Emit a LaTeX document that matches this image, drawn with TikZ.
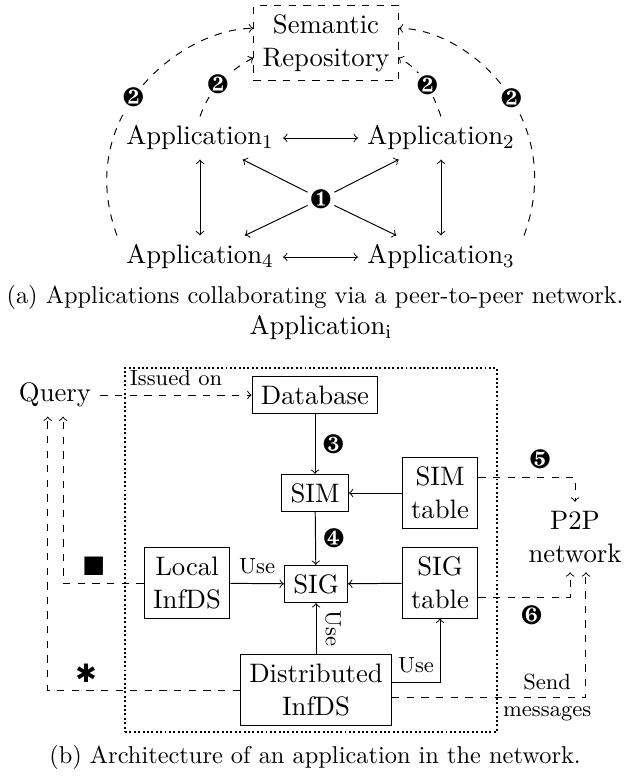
\documentclass[tikz,border=0pt,11pt]{standalone}
\usepackage{pifont}

\begin{document}
\begin{tikzpicture}[x=0.41pt, y=0.41pt,
                box/.style={draw, rectangle, align=center},
                repobox/.style={draw, rectangle, dashed, align=center},
                frame/.style={draw, rectangle, thick, densely dotted, minimum width=152.5pt, minimum height=149.2pt},
                lbl/.style={font=\footnotesize},
                num/.style={inner sep=1pt},
                numw/.style={inner sep=1pt, fill=white},
                capt/.style={font=\small}
            ]
            \useasboundingbox (0,0) rectangle (629,-780);
            % Nodes (a)
            \node[repobox] (repo) at (326,-43) {Semantic\\Repository};
            \node (app1) at (200,-138) {Application$_1$};
            \node (app2) at (441,-138) {Application$_2$};
            \node (app3) at (441,-257) {Application$_3$};
            \node (app4) at (200,-257) {Application$_4$};
            \node[num] (one) at (321,-199) {\ding{182}};
            \node[capt] (capa) at (315,-297) {(a) Applications collaborating via a peer-to-peer network.};

            % Edges (a)
            \draw[<->] (app1) -- (app2);
            \draw[<->] (app4) -- (app3);
            \draw[<->] (app1) -- (app4);
            \draw[<->] (app2) -- (app3);
            \draw[->] (one) -- (app1);
            \draw[->] (one) -- (app2);
            \draw[->] (one) -- (app3);
            \draw[->] (one) -- (app4);
            \draw[->, dashed] (app4.north west) to[out=110, in=180, out looseness=1.34, in looseness=0.72] node[numw, pos=0.45] {\ding{183}} ([yshift=6pt]repo.west);
            \draw[->, dashed] (app1.north) to[out=70, in=210] node[numw, pos=0.45] {\ding{183}} ([yshift=-6pt]repo.west);
            \draw[->, dashed] (app2.north) to[out=110, in=-30] node[numw, pos=0.45] {\ding{183}} ([yshift=-6pt]repo.east);
            \draw[->, dashed] (app3.north east) to[out=70, in=0, out looseness=1.34, in looseness=0.72] node[numw, pos=0.45] {\ding{183}} ([yshift=6pt]repo.east);

            % Nodes (b)
            \node[frame] (appi) at (311,-550) {};
            \node (appilbl) at (321,-328) {Application$_\mathrm{i}$};
            \node (query) at (55,-395) {Query};
            \node[box] (db) at (315,-395) {Database};
            \node[box] (sim) at (315,-493) {SIM};
            \node[box] (simtab) at (440,-493) {SIM\\table};
            \node[box] (local) at (187,-583) {Local\\InfDS};
            \node[box] (sig) at (316,-584) {SIG};
            \node[box] (sigtab) at (440,-583) {SIG\\table};
            \node[box] (dist) at (316,-690) {Distributed\\InfDS};
            \node[align=center] (p2p) at (575,-537) {P2P\\network};
            \node[capt] (capb) at (315,-757) {(b) Architecture of an application in the network.};

            % Edges (b)
            \draw[->, dashed] (query) -- node[lbl, above] {Issued on} (db);
            \draw[->] (db) -- node[num, right=2pt] {\ding{184}} (sim);
            \draw[->] (sim) -- node[num, right=2pt] {\ding{185}} (sig);
            \draw[->] (simtab) -- (sim);
            \draw[->] (sigtab) -- (sig);
            \draw[->] (local) -- node[lbl, above] {Use} (sig);
            \draw[->] (dist) -- node[lbl, midway, anchor=south, rotate=-90] {Use} (sig);
            \draw[->] ([yshift=3pt]dist.east) -| node[lbl, above, pos=0.25] {Use} (sigtab);
            \draw[->, dashed] ([yshift=6.5pt]simtab.east) -| node[num, above=2pt, pos=0.32] {\ding{186}} (p2p);
            \draw[->, dashed] ([yshift=-6pt]sigtab.east) -| node[num, below=2pt, pos=0.29] {\ding{187}} ([xshift=-2pt]p2p.south);
            \draw[->, dashed] ([yshift=-3pt]dist.east) -| node[lbl, align=center, pos=0.4] {Send\\messages} ([xshift=4.5pt]p2p.south);
            \draw[->, dashed] (local.west) -| node[num, above=2pt, pos=0.31] {\ding{110}} ([xshift=3.3pt]query.south);
            \draw[->, dashed] (dist.west) -| node[num, above=2pt, pos=0.4] {\ding{81}} ([xshift=-3pt]query.south);
\end{tikzpicture}
\end{document}
